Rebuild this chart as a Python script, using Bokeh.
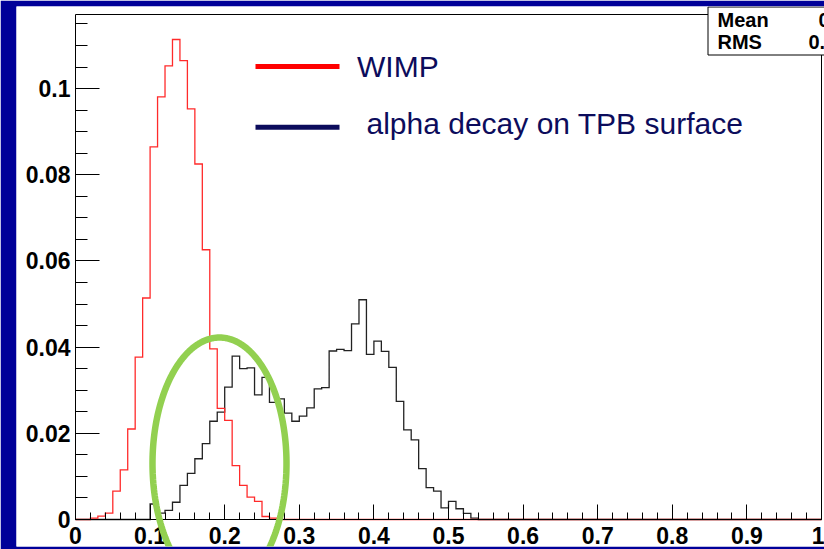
import numpy as np
from bokeh.plotting import figure
from bokeh.models import (SingleIntervalTicker, CustomJSTickFormatter, BoxAnnotation,
                          PolyAnnotation, Label, Arrow, Range1d)
from bokeh.embed import file_html
from bokeh.resources import INLINE

# ---------------- data ----------------
bin_width = 0.01
n_bins = 100

# WIMP histogram: bins 2 .. 26 (bin k covers [k*0.01, (k+1)*0.01))
wimp_first_bin = 2
wimp_values = [0.0003, 0.0008, 0.0015, 0.0066, 0.0115, 0.0210, 0.0377, 0.0514,
               0.0865, 0.0981, 0.1053, 0.1114, 0.1065, 0.0953, 0.0825, 0.0626,
               0.0396, 0.0258, 0.0230, 0.0125, 0.0079, 0.0052, 0.0042, 0.0007,
               0.0003]

# alpha decay on TPB surface histogram: bins 10 .. 53
alpha_first_bin = 10
alpha_values = [0.0036, 0.0015, 0.0021, 0.0040, 0.0079, 0.0107, 0.0141, 0.0176,
                0.0228, 0.0249, 0.0307, 0.0379, 0.0350, 0.0352, 0.0289, 0.0330,
                0.0272, 0.0280, 0.0247, 0.0228, 0.0240, 0.0259, 0.0303, 0.0306,
                0.0391, 0.0395, 0.0392, 0.0454, 0.0510, 0.0383, 0.0414, 0.0390,
                0.0353, 0.0274, 0.0208, 0.0185, 0.0118, 0.0074, 0.0066, 0.0027,
                0.0042, 0.0025, 0.0014, 0.0003]

legend_labels = ["WIMP", "alpha decay on TPB surface"]
stats_names = ["Mean", "RMS"]
stats_values = ["0.1407", "0.03711"]

X_MIN, X_MAX = 0.0, 1.0
Y_MIN, Y_MAX = 0.0, 0.1172

# ---------------- layout / style ----------------
W, H = 824, 549
PL, PR, PT, PB = 16, 824, 6, 546           # white panel edges (pixels)
FL, FR, FT, FB = 75, 821, 14, 519          # histogram frame edges (pixels)
NAVY = "#000099"
TEXT_NAVY = "#0c0c5c"
GREEN = "#92d050"
FONT = "Liberation Sans"


def dx(px):
    return X_MIN + (px - FL) / (FR - FL) * (X_MAX - X_MIN)


def dy(py):
    return Y_MIN + (FB - py) / (FB - FT) * (Y_MAX - Y_MIN)


def outline(first_bin, values):
    full = np.zeros(n_bins)
    full[first_bin:first_bin + len(values)] = values
    edges = np.arange(n_bins + 1) * bin_width
    xs = np.repeat(edges, 2)[1:-1]
    ys = np.repeat(full, 2)
    return xs, ys


p = figure(width=W, height=H, output_backend="svg", toolbar_location=None,
           x_range=Range1d(dx(PL), dx(PR)), y_range=Range1d(dy(PB), dy(PT)),
           min_border_left=PL, min_border_right=W - PR,
           min_border_top=PT, min_border_bottom=H - PB)
p.border_fill_color = NAVY
p.background_fill_color = "white"
p.outline_line_color = None
p.xgrid.visible = False
p.ygrid.visible = False

# ROOT frame: top and right edges
p.segment(x0=[X_MIN, X_MAX], y0=[Y_MAX, Y_MIN], x1=[X_MAX, X_MAX], y1=[Y_MAX, Y_MAX],
          line_color="black", line_width=1)

wx, wy = outline(wimp_first_bin, wimp_values)
ax, ay = outline(alpha_first_bin, alpha_values)
p.line(ax, ay, line_color="#222222", line_width=1.3, line_join="miter")
p.line(wx, wy, line_color="#ff2a2a", line_width=1.3, line_join="miter")

fmt = CustomJSTickFormatter(code="return String(Number(tick.toFixed(3)));")
for axis, ticker, tin, mtin, standoff, loc, bounds in (
        (p.xaxis[0], SingleIntervalTicker(interval=0.1, num_minor_ticks=5), 15, 7, 7,
         Y_MIN, (X_MIN, X_MAX)),
        (p.yaxis[0], SingleIntervalTicker(interval=0.02, num_minor_ticks=4), 24, 12, 5,
         X_MIN, (Y_MIN, Y_MAX))):
    axis.fixed_location = loc
    axis.bounds = bounds
    axis.ticker = ticker
    axis.formatter = fmt
    axis.major_tick_in = tin
    axis.major_tick_out = 0
    axis.minor_tick_in = mtin
    axis.minor_tick_out = 0
    axis.major_label_standoff = standoff
    axis.major_label_text_font = FONT
    axis.major_label_text_font_style = "bold"
    axis.major_label_text_font_size = "23px"
    axis.major_label_text_color = "black"
    axis.axis_line_color = "black"
    axis.major_tick_line_color = "black"
    axis.minor_tick_line_color = "black"

# legend (manual, as drawn in the reference)
for color, label, ly, tx, base in (("#ff0000", legend_labels[0], 66, 356.5, 65.5),
                                   ("#0c0c5c", legend_labels[1], 126.7, 366, 123)):
    p.add_layout(Arrow(end=None, x_start=dx(255), x_end=dx(339), y_start=dy(ly), y_end=dy(ly),
                       line_color=color, line_width=5))
    p.add_layout(Label(x=dx(tx), y=dy(base), text=label, text_font=FONT,
                       text_font_size="30px", text_color=TEXT_NAVY,
                       text_baseline="alphabetic"))

# stats box (cut off at the right edge, as in the reference)
p.add_layout(BoxAnnotation(left=dx(707.5), right=dx(900), top=dy(6.5), bottom=dy(54.5),
                           fill_color="white", fill_alpha=1, line_color="black",
                           line_alpha=1, line_width=1, level="overlay"))
for name, val, base, vx in ((stats_names[0], stats_values[0], 19.2, 818),
                            (stats_names[1], stats_values[1], 41.8, 808)):
    p.add_layout(Label(x=dx(717), y=dy(base), text=name, text_font=FONT,
                       text_font_style="bold", text_font_size="20px",
                       text_color="black", text_baseline="alphabetic", level="overlay"))
    p.add_layout(Label(x=dx(vx), y=dy(base), text=val, text_font=FONT,
                       text_font_style="bold", text_font_size="20px",
                       text_color="black", text_baseline="alphabetic", level="overlay"))

# green hand-drawn ellipse highlight
E_CX, E_CY, E_A, E_B = 219, 463, 67, 126     # pixels
t = np.linspace(0, 2 * np.pi, 241)
ex = [dx(E_CX + E_A * np.cos(a)) for a in t]
ey = [dy(E_CY + E_B * np.sin(a)) for a in t]
p.add_layout(PolyAnnotation(xs=ex, ys=ey, fill_alpha=0, line_color=GREEN,
                            line_alpha=1, line_width=6.5))

open("out.html", "w").write(file_html(p, INLINE))
